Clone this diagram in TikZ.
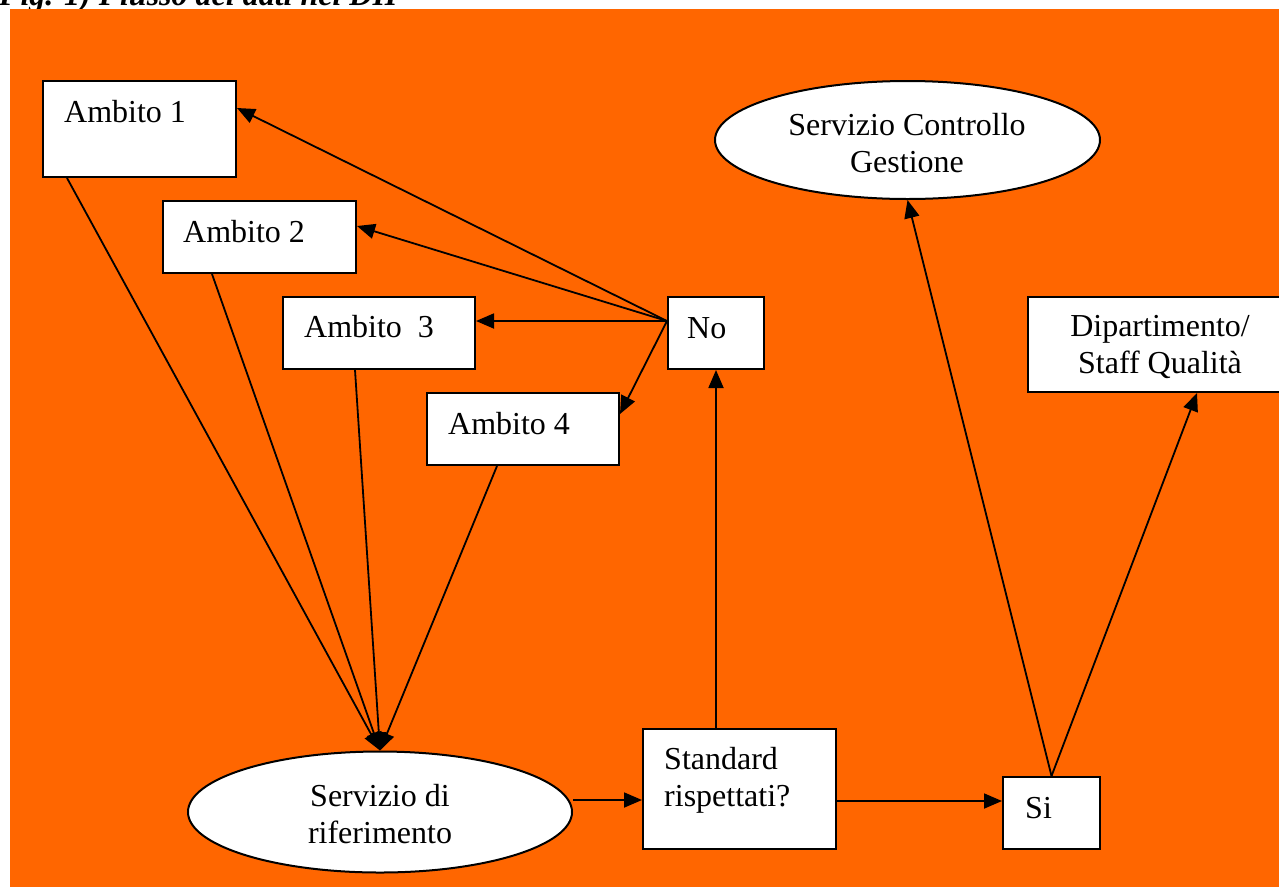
\documentclass[tikz,border=0pt]{standalone}
\usepackage{fontspec}
\setmainfont{Liberation Serif}
\usetikzlibrary{arrows.meta,shapes.geometric,calc}
\definecolor{bgorange}{HTML}{FF6600}
\begin{document}
\begin{tikzpicture}[x=1pt,y=-1pt,
  box/.style={rectangle,draw=black,line width=2pt,fill=white,inner sep=0pt},
  oval/.style={ellipse,draw=black,line width=2pt,fill=white,inner sep=0pt},
  lbl/.style={font=\fontsize{32}{37}\selectfont,inner sep=0pt},
  flow/.style={line width=1.8pt,-{Triangle[length=18pt,width=15pt]}}
]
\useasboundingbox (0,0) rectangle (1279,887);
\clip (0,0) rectangle (1279,887);

% caption above the panel
\node[lbl,font=\fontsize{32}{37}\selectfont\bfseries\itshape,anchor=base west] (cap) at (-1,5) {Fig. 1) Flusso dei dati nel DH};

% panel background
\fill[bgorange] (10,9) rectangle (1279,887);

% boxes
\node[box,minimum width=193pt,minimum height=96pt] (a1) at (139.5,129) {};
\node[box,minimum width=193pt,minimum height=72pt] (a2) at (259.5,237) {};
\node[box,minimum width=192pt,minimum height=72pt] (a3) at (379,333) {};
\node[box,minimum width=192pt,minimum height=72pt] (a4) at (523,429) {};
\node[box,minimum width=96pt,minimum height=72pt] (no) at (716,333) {};
\node[box,minimum width=193pt,minimum height=120pt] (std) at (739.5,789) {};
\node[box,minimum width=97pt,minimum height=72pt] (si) at (1051.5,813) {};
\node[box,minimum width=264pt,minimum height=95pt] (dip) at (1160,344.5) {};
\node[oval,minimum width=384pt,minimum height=121pt] (ser) at (380,812) {};
\node[oval,minimum width=385pt,minimum height=118pt] (scg) at (907.5,140) {};

% labels (multi-line ones are placed by the baseline of their last line)
\node[lbl,anchor=base west] (t1) at (64,122) {Ambito 1};
\node[lbl,anchor=base west] (t2) at (183,242) {Ambito 2};
\node[lbl,anchor=base west] (t3) at (304,337) {Ambito\ \ 3};
\node[lbl,anchor=base west] (t4) at (448,434) {Ambito 4};
\node[lbl,anchor=base west] (tno) at (687,338) {No};
\node[lbl,anchor=base west] (tsi) at (1025,818) {Si};
\node[lbl,anchor=base west,align=left] (tstd) at (664,806) {Standard\\rispettati?};
\node[lbl,anchor=base,align=center] (tser) at (380,843) {Servizio di\\riferimento};
\node[lbl,anchor=base,align=center] (tscg) at (907,172) {Servizio Controllo\\Gestione};
\node[lbl,anchor=base,align=center] (tdip) at (1160,373) {Dipartimento/\\Staff Qualità};

% rejected: back to the four areas
\coordinate (nofork) at ([yshift=12pt]no.west);
\draw[flow] (nofork) -- ([yshift=21pt]a1.east);
\draw[flow] (nofork) -- ([yshift=11pt]a2.east);
\draw[flow] (nofork) -- ([yshift=12pt]a3.east);
\draw[flow] (nofork) -- ([yshift=15pt]a4.east);

% areas feed the reference service
\draw[flow] ([xshift=25pt]a1.south west) -- (ser.north);
\draw[flow] ([xshift=50pt]a2.south west) -- (ser.north);
\draw[flow] ([xshift=73pt]a3.south west) -- (ser.north);
\draw[flow] ([xshift=71pt]a4.south west) -- (ser.north);

% check of the standards
\coordinate (sj) at ([yshift=-11pt]std.west);
\draw[flow] (ser.east |- sj) -- (sj);
\draw[flow] (std.north -| no.south) -- (no.south);
\draw[flow] ([yshift=-12pt]std.east) -- ([yshift=-12pt]std.east -| si.west);
\draw[flow] (si.north) -- (scg.south);
\draw[flow] (si.north) -- ([xshift=37pt]dip.south);
\end{tikzpicture}
\end{document}
